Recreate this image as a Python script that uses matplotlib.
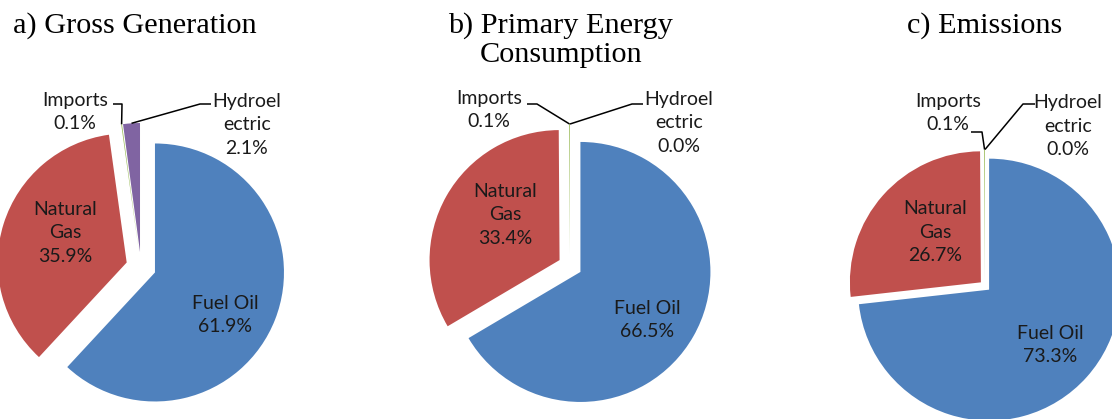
import matplotlib
matplotlib.use("Agg")
import matplotlib.pyplot as plt
import numpy as np

# ---------------- data ----------------
categories = ["Fuel Oil", "Natural Gas", "Imports", "Hydroelectric"]
label_names = ["Fuel Oil", "Natural\nGas", "Imports", "Hydroel\nectric"]
titles = ["a) Gross Generation", "b) Primary Energy\nConsumption", "c) Emissions"]
gross_generation = [61.9, 35.9, 0.1, 2.1]
primary_energy = [66.5, 33.4, 0.1, 0.0]
emissions = [73.3, 26.7, 0.1, 0.0]
colors = ["#4F81BD", "#C0504D", "#9BBB59", "#8064A2"]

series = [gross_generation, primary_energy, emissions]

# ---------------- layout (pixels, y measured from top) ----------------
W, H = 1112, 419
layouts = [
    dict(center=(141, 267), r=129, explode=15,
         labels=[(225, 315), (65, 233), (75, 112), (247, 125)],
         leaders={2: [(113, 104), (122, 104)], 3: [(211, 104), (200, 104)]}),
    dict(center=(570, 266), r=130, explode=12,
         labels=[(647, 320), (505, 215), (489, 110), (679, 123)],
         leaders={2: [(527, 104), (537, 104)], 3: [(643, 104), (632, 104)]}),
    dict(center=(985, 286), r=131, explode=5.5,
         labels=[(1050, 345), (935, 232), (948, 113), (1068, 126)],
         leaders={2: [(971, 132), (982, 132)], 3: [(1035, 104), (1023, 104)]}),
]
title_pos = [[(13, 33, "left")], [(448, 33, "left"), (480, 62, "left")], [(907, 33, "left")]]


def up(y):
    return H - y


fig = plt.figure(figsize=(W / 100, H / 100), dpi=100)
ax = fig.add_axes([0, 0, 1, 1])

label_font = dict(family=["Lato", "DejaVu Sans"], fontsize=14, color="#1a1a1a")
title_font = dict(family=["Liberation Serif", "DejaVu Serif"], fontsize=21.8, color="black")

for vals, lay, title, tpos in zip(series, layouts, titles, title_pos):
    cx, cy = lay["center"]
    wedges, _ = ax.pie(vals, colors=colors, startangle=90, counterclock=False,
                       center=(cx, up(cy)), radius=lay["r"],
                       explode=[lay["explode"]] * len(vals),
                       wedgeprops=dict(linewidth=0), normalize=True)
    for i, (name, v) in enumerate(zip(label_names, vals)):
        lx, ly = lay["labels"][i]
        ax.text(lx, up(ly), f"{name}\n{v:.1f}%", ha="center", va="center",
                linespacing=1.45, **label_font)
    for i, pts in lay["leaders"].items():
        w = wedges[i]
        mid = np.deg2rad((w.theta1 + w.theta2) / 2)
        ex = w.center[0] + w.r * np.cos(mid)
        ey = w.center[1] + w.r * np.sin(mid)
        xs = [p[0] for p in pts] + [ex]
        ys = [up(p[1]) for p in pts] + [ey]
        ax.plot(xs, ys, color="black", lw=1.1, solid_capstyle="butt")
    for (tx, ty, ha), line in zip(tpos, title.split("\n")):
        ax.text(tx, up(ty), line, ha=ha, va="baseline", **title_font)

ax.set_xlim(0, W)
ax.set_ylim(0, H)
ax.set_aspect("equal")
ax.set_axis_off()
fig.savefig("out.png", dpi=100, facecolor="white")
